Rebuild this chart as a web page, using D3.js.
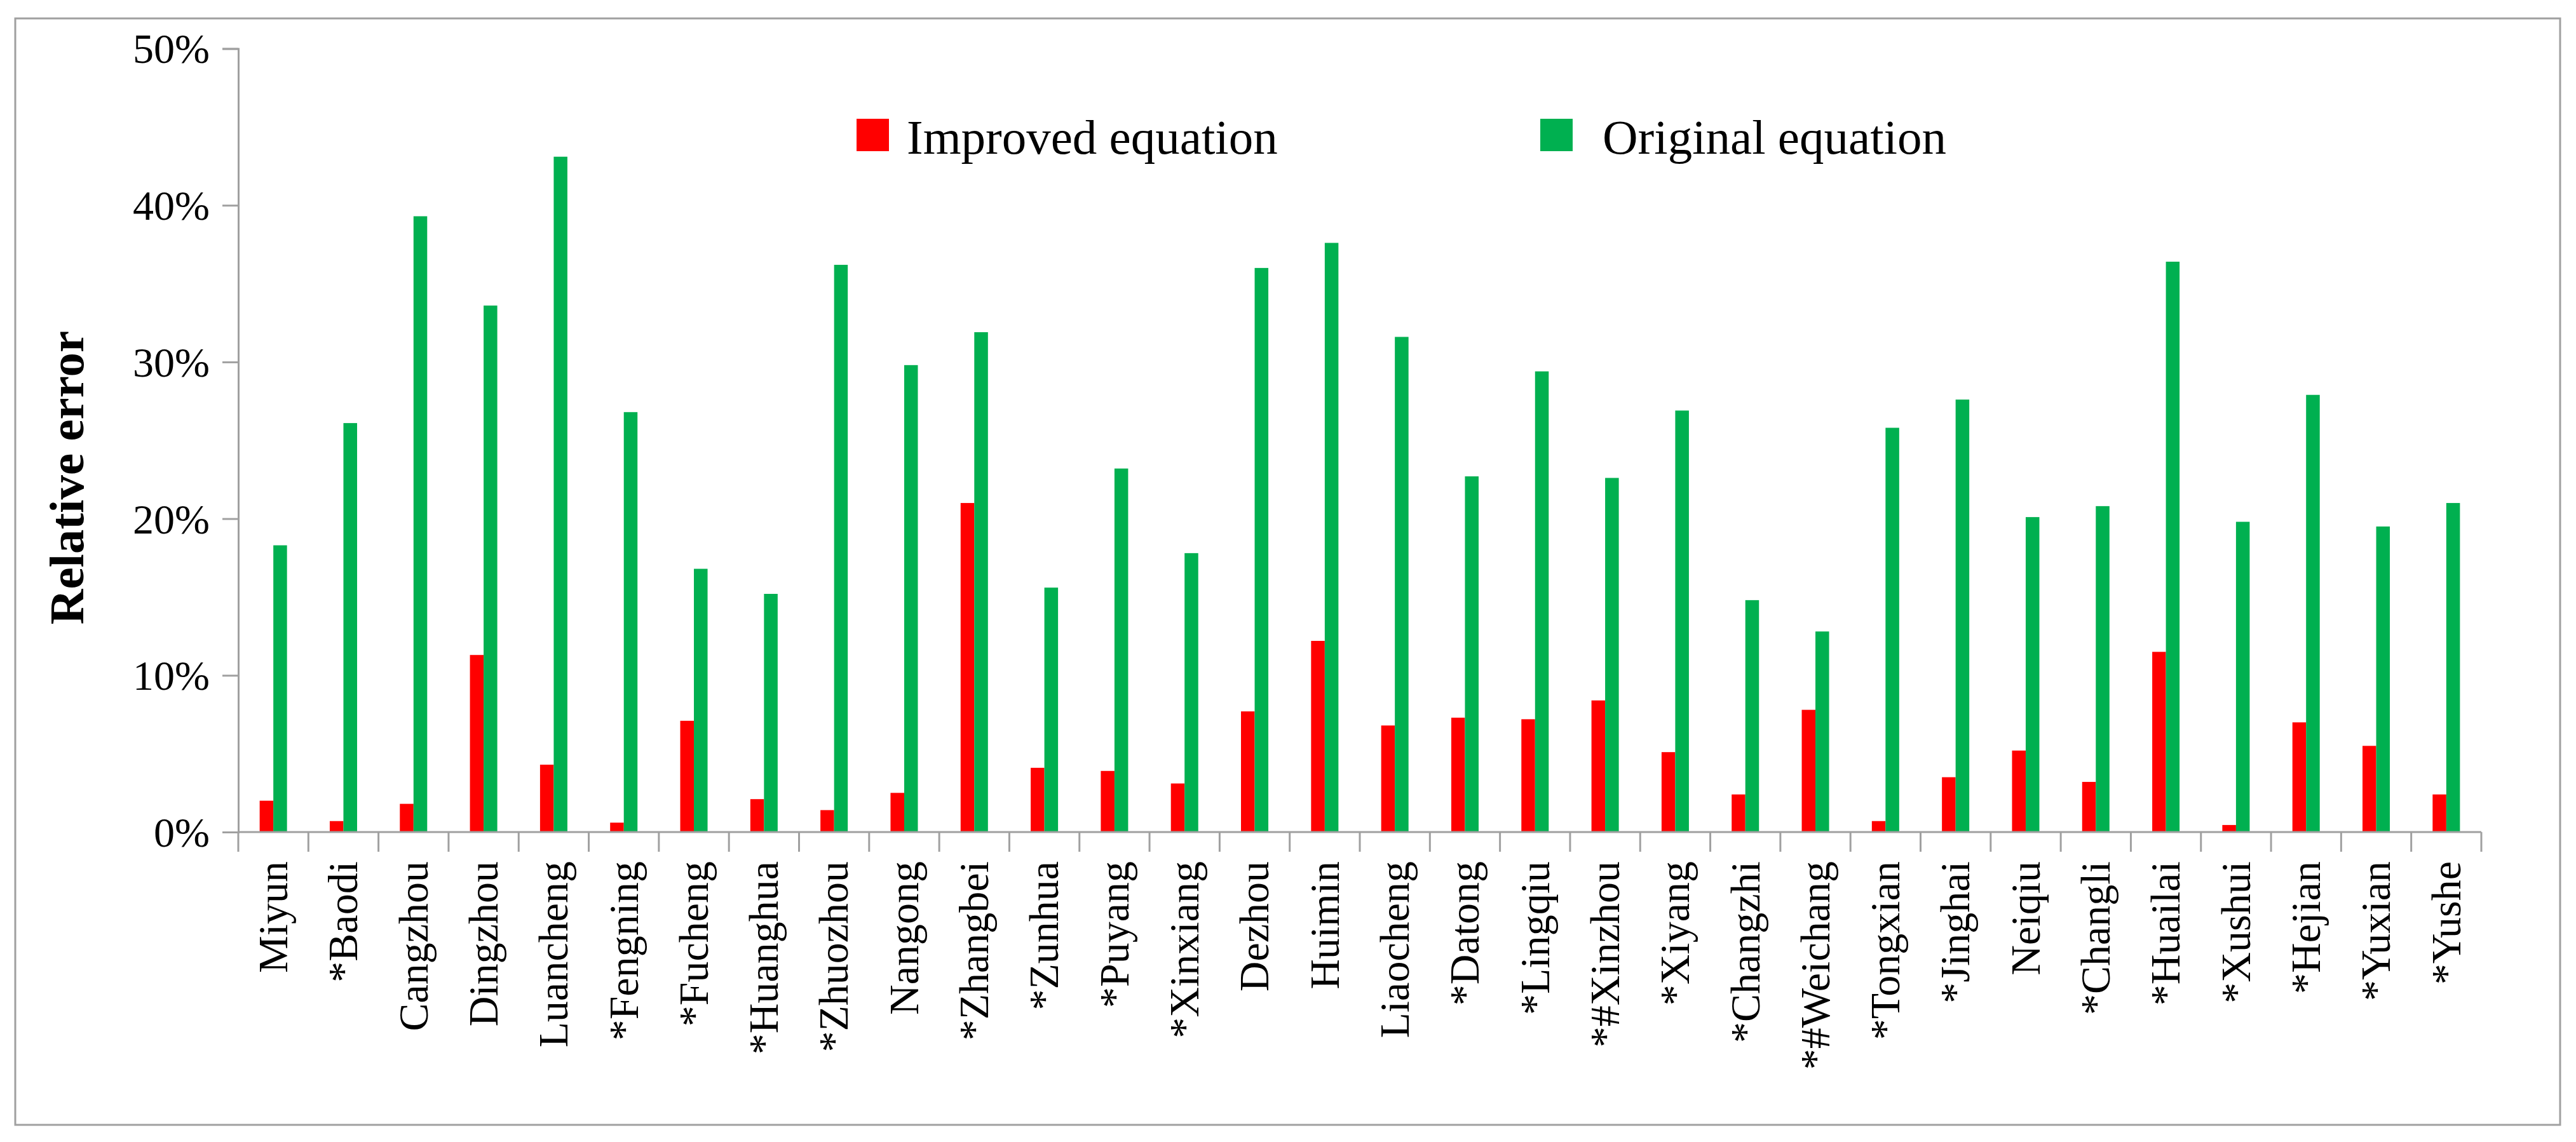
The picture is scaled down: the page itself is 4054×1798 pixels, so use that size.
<!DOCTYPE html>
<html>
<head>
<meta charset="utf-8">
<script src="https://cdn.jsdelivr.net/npm/d3@7/dist/d3.min.js"></script>
<style>
  html, body { margin: 0; padding: 0; background: #fff; }
  svg { display: block; }
  svg text { font-family: "Liberation Serif", "Times New Roman", "DejaVu Serif", serif; }
</style>
</head>
<body>
<div id="chart"></div>
<script>
(function () {
  "use strict";

  /* ---- data (relative error, %) ---- */
  const stations = [
    "Miyun", "*Baodi", "Cangzhou", "Dingzhou", "Luancheng", "*Fengning", "*Fucheng", "*Huanghua",
    "*Zhuozhou", "Nangong", "*Zhangbei", "*Zunhua", "*Puyang", "*Xinxiang", "Dezhou", "Huimin",
    "Liaocheng", "*Datong", "*Lingqiu", "*#Xinzhou", "*Xiyang", "*Changzhi", "*#Weichang", "*Tongxian",
    "*Jinghai", "Neiqiu", "*Changli", "*Huailai", "*Xushui", "*Hejian", "*Yuxian", "*Yushe"
  ];
  const improved = [
    2.0, 0.7, 1.8, 11.3, 4.3, 0.6, 7.1, 2.1,
    1.4, 2.5, 21.0, 4.1, 3.9, 3.1, 7.7, 12.2,
    6.8, 7.3, 7.2, 8.4, 5.1, 2.4, 7.8, 0.7,
    3.5, 5.2, 3.2, 11.5, 0.45, 7.0, 5.5, 2.4
  ];
  const original = [
    18.3, 26.1, 39.3, 33.6, 43.1, 26.8, 16.8, 15.2,
    36.2, 29.8, 31.9, 15.6, 23.2, 17.8, 36.0, 37.6,
    31.6, 22.7, 29.4, 22.6, 26.9, 14.8, 12.8, 25.8,
    27.6, 20.1, 20.8, 36.4, 19.8, 27.9, 19.5, 21.0
  ];
  const seriesNames = ["Improved equation", "Original equation"];
  const yTicks = [0, 10, 20, 30, 40, 50];

  const W = 4054, H = 1798;
  const FONT = "Liberation Serif, Times New Roman, DejaVu Serif, serif";
  const RED = "#ff0000", GREEN = "#00b050", AXIS = "#a0a0a0";
  const colors = [RED, GREEN];

  const svg = d3.select("#chart").append("svg")
    .attr("width", W).attr("height", H)
    .attr("font-family", FONT);

  /* outer frame */
  svg.append("rect")
    .attr("x", 24).attr("y", 29)
    .attr("width", 4005).attr("height", 1742)
    .attr("fill", "#fff")
    .attr("stroke", AXIS).attr("stroke-width", 3);

  const plot = { left: 375, right: 3905, top: 76.5, bottom: 1310 };

  const x0 = d3.scaleBand().domain(stations).range([plot.left, plot.right]).padding(0);
  const barW = x0.bandwidth() * 0.195;
  const x1 = d3.scaleBand().domain(seriesNames)
    .range([x0.bandwidth() / 2 - barW, x0.bandwidth() / 2 + barW]).padding(0);
  const y = d3.scaleLinear().domain([0, 50]).range([plot.bottom, plot.top]);

  /* bars */
  const rows = stations.map(function (s, i) { return { name: s, vals: [improved[i], original[i]] }; });
  const g = svg.append("g");
  const groups = g.selectAll("g.cat").data(rows).enter().append("g")
    .attr("class", "cat")
    .attr("transform", function (d) { return "translate(" + x0(d.name) + ",0)"; });
  groups.selectAll("rect").data(function (d) {
      return d.vals.map(function (v, k) { return { series: seriesNames[k], v: v, k: k }; });
    }).enter().append("rect")
    .attr("x", function (d) { return x1(d.series); })
    .attr("width", x1.bandwidth())
    .attr("y", function (d) { return y(d.v); })
    .attr("height", function (d) { return y(0) - y(d.v); })
    .attr("fill", function (d) { return colors[d.k]; });

  /* y axis */
  const yAxis = svg.append("g")
    .attr("transform", "translate(" + plot.left + ",0)")
    .call(d3.axisLeft(y).tickValues(yTicks).tickSize(25).tickPadding(20)
      .tickFormat(function (d) { return d + "%"; }));
  yAxis.attr("font-family", FONT);
  yAxis.select(".domain").attr("stroke", AXIS).attr("stroke-width", 3);
  yAxis.selectAll(".tick line").attr("stroke", AXIS).attr("stroke-width", 3);
  yAxis.selectAll(".tick text")
    .attr("fill", "#000")
    .attr("font-family", FONT)
    .attr("font-size", 66)
    .attr("dy", "0.34em");

  /* x axis: ticks between categories */
  const xAxisG = svg.append("g").attr("transform", "translate(0," + plot.bottom + ")");
  xAxisG.append("line")
    .attr("x1", plot.left).attr("x2", plot.right)
    .attr("stroke", AXIS).attr("stroke-width", 3);
  const bounds = stations.map(function (s) { return x0(s); }).concat([plot.right]);
  xAxisG.selectAll("line.tk").data(bounds).enter().append("line")
    .attr("class", "tk")
    .attr("x1", function (d) { return d; }).attr("x2", function (d) { return d; })
    .attr("y1", 0).attr("y2", 31)
    .attr("stroke", AXIS).attr("stroke-width", 3);
  xAxisG.selectAll("text").data(stations).enter().append("text")
    .attr("transform", function (d) {
      return "translate(" + (x0(d) + x0.bandwidth() / 2) + ",46) rotate(-90)";
    })
    .attr("text-anchor", "end")
    .attr("dy", "0.33em")
    .attr("font-family", FONT)
    .attr("font-size", 66)
    .attr("fill", "#000")
    .text(function (d) { return d; });

  /* y title */
  svg.append("text")
    .attr("transform", "translate(104,752) rotate(-90)")
    .attr("text-anchor", "middle")
    .attr("dy", "0.35em")
    .attr("font-family", FONT)
    .attr("font-size", 77)
    .attr("font-weight", "bold")
    .attr("fill", "#000")
    .text("Relative error");

  /* legend */
  const legendX = [1348, 2424];
  const leg = svg.append("g");
  seriesNames.forEach(function (name, k) {
    leg.append("rect")
      .attr("x", legendX[k]).attr("y", 187)
      .attr("width", 51).attr("height", 51)
      .attr("fill", colors[k]);
    leg.append("text")
      .attr("x", legendX[k] + (k === 0 ? 79 : 98)).attr("y", 242)
      .attr("font-family", FONT)
      .attr("font-size", 77)
      .attr("fill", "#000")
      .text(name);
  });
})();
</script>
</body>
</html>
